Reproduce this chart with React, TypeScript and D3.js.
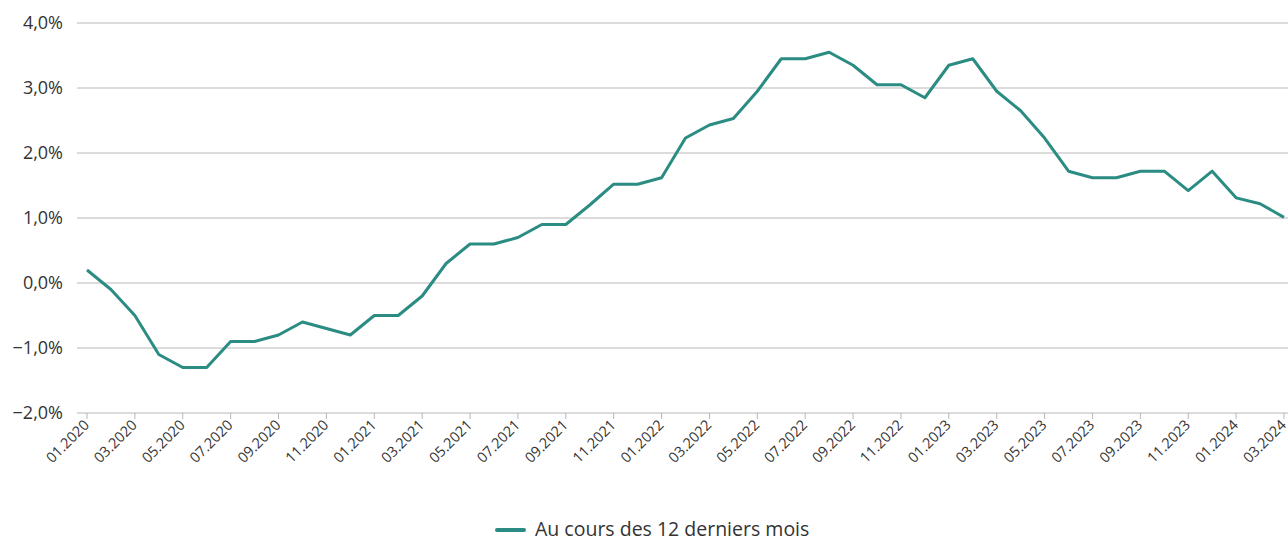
import React from "react";
import * as d3 from "d3";

// monthly inflation, 01.2020 .. 03.2024 (in %)
const months = [
  "01.2020", "02.2020", "03.2020", "04.2020", "05.2020", "06.2020", "07.2020", "08.2020", "09.2020", "10.2020", "11.2020", "12.2020",
  "01.2021", "02.2021", "03.2021", "04.2021", "05.2021", "06.2021", "07.2021", "08.2021", "09.2021", "10.2021", "11.2021", "12.2021",
  "01.2022", "02.2022", "03.2022", "04.2022", "05.2022", "06.2022", "07.2022", "08.2022", "09.2022", "10.2022", "11.2022", "12.2022",
  "01.2023", "02.2023", "03.2023", "04.2023", "05.2023", "06.2023", "07.2023", "08.2023", "09.2023", "10.2023", "11.2023", "12.2023",
  "01.2024", "02.2024", "03.2024",
];
const values = [
  0.2, -0.1, -0.5, -1.1, -1.3, -1.3, -0.9, -0.9, -0.8, -0.6, -0.7, -0.8,
  -0.5, -0.5, -0.2, 0.3, 0.6, 0.6, 0.7, 0.9, 0.9, 1.2, 1.52, 1.52,
  1.62, 2.23, 2.43, 2.53, 2.95, 3.45, 3.45, 3.55, 3.35, 3.05, 3.05, 2.85,
  3.35, 3.45, 2.95, 2.65, 2.23, 1.72, 1.62, 1.62, 1.72, 1.72, 1.42, 1.72,
  1.31, 1.22, 1.01,
];
const yTicks = [-2, -1, 0, 1, 2, 3, 4];
const seriesName = "Au cours des 12 derniers mois";

const W = 1288;
const H = 537;
const FONT = "'Open Sans', Lato, sans-serif";
const TEAL = "#2a8c82";
const GRID = "#b8b8b8";
const TEXT = "#333333";

export default function App() {
  const x = d3.scalePoint<string>().domain(months).range([87, 1284]);
  const y = d3.scaleLinear().domain([-2, 4]).range([413, 23]);
  const fmt = (v: number) => d3.format(".1f")(v).replace(".", ",").replace("-", "\u2013") + "%";
  const line = d3
    .line<number>()
    .x((_, i) => x(months[i]) as number)
    .y(d => y(d));
  const tickMonths = months.filter((_, i) => i % 2 === 0);

  return (
    <svg
      width={W}
      height={H}
      style={{ position: "absolute", left: 0, top: 0, background: "#fff" }}
      fontFamily={FONT}
    >
      {yTicks.map(t => (
        <g key={t}>
          <line x1={77} x2={W} y1={y(t)} y2={y(t)} stroke={GRID} strokeWidth={1} />
          <text x={63} y={y(t)} dy="0.35em" textAnchor="end" fontSize={18} fill={TEXT}>
            {fmt(t)}
          </text>
        </g>
      ))}
      {tickMonths.map(m => (
        <g key={m} transform={`translate(${x(m)},413)`}>
          <line y1={0} y2={6} stroke={GRID} />
          <text
            transform="translate(3,13) rotate(-45)"
            textAnchor="end"
            fontSize={14.5}
            fill={TEXT}
          >
            {m}
          </text>
        </g>
      ))}
      <path d={line(values) ?? ""} fill="none" stroke={TEAL} strokeWidth={3} strokeLinejoin="round" />
      <line x1={497} x2={524} y1={530} y2={530} stroke={TEAL} strokeWidth={4} strokeLinecap="round" />
      <text x={535} y={536} fontSize={19.5} fill={TEXT}>
        {seriesName}
      </text>
    </svg>
  );
}
